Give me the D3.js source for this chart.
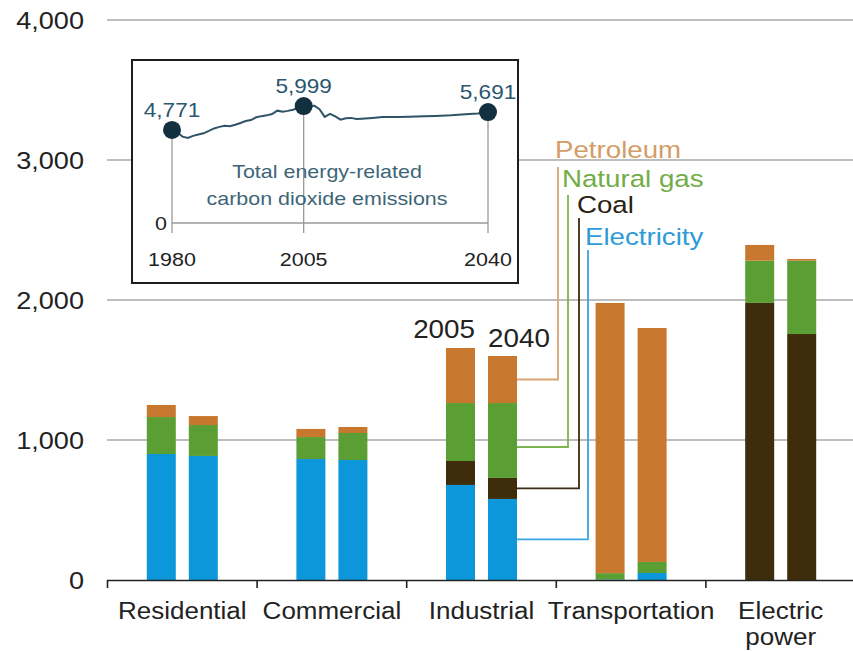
<!DOCTYPE html>
<html>
<head>
<meta charset="utf-8">
<script src="https://cdn.jsdelivr.net/npm/d3@7"></script>
<style>
  html, body { margin: 0; padding: 0; background: #fff; }
  svg { display: block; }
  text { font-family: "Liberation Sans", Arial, Helvetica, sans-serif; }
</style>
</head>
<body>
<div id="chart"></div>
<script>
// ---------------- DATA ----------------
const categories = ["Residential", "Commercial", "Industrial", "Transportation", "Electric power"];
const years = ["2005", "2040"];
const fuels = ["Electricity", "Coal", "Natural gas", "Petroleum"]; // stacking order bottom -> top

const electricity2005 = [900, 864, 679, 4, 0];
const coal2005        = [0, 0, 171, 0, 1979];
const gas2005         = [264, 157, 414, 45, 302];
const petroleum2005   = [86, 58, 393, 1930, 112];

const electricity2040 = [886, 857, 579, 50, 0];
const coal2040        = [0, 0, 150, 0, 1757];
const gas2040         = [221, 193, 535, 79, 524];
const petroleum2040   = [64, 43, 336, 1671, 12];

const yTicks = [0, 1000, 2000, 3000, 4000];

// legend (labels + where each leader line attaches on the Industrial 2040 bar)
const legendLabels = ["Petroleum", "Natural gas", "Coal", "Electricity"];
const leaderValues = [1432, 950, 654, 290];

// inset: total energy-related CO2 emissions
const insetYears  = [1980,1981,1982,1983,1984,1985,1986,1987,1988,1989,1990,1991,1992,1993,1994,1995,1996,1997,1998,1999,2000,2001,2002,2003,2004,2005,2006,2007,2008,2009,2010,2011,2012,2013,2014,2015,2016,2018,2020,2023,2025,2028,2030,2033,2035,2038,2040];
const insetValues = [4771,4640,4430,4360,4470,4540,4600,4720,4850,4930,4990,4960,5040,5130,5230,5280,5420,5480,5520,5590,5760,5700,5750,5810,5910,5999,5930,6020,5840,5440,5600,5470,5300,5370,5390,5330,5350,5390,5430,5440,5450,5470,5490,5520,5560,5620,5691];
const keyYears  = [1980, 2005, 2040];
const keyValues = [4771, 5999, 5691];
const insetTickYears = [1980, 2005, 2040];

// ---------------- STYLE / LAYOUT ----------------
const W = 853, H = 651;
const FONT_SX = 1.13;
const colors = {
  "Electricity": "#0b97da",
  "Coal": "#3e2c0b",
  "Natural gas": "#5b9e33",
  "Petroleum": "#c8782e"
};
const legendTextColor = {
  "Petroleum": "#d49c66", "Natural gas": "#72ad47", "Coal": "#2a2212", "Electricity": "#2f9ad8"
};
const leaderColor = {
  "Petroleum": "#d9a574", "Natural gas": "#7db452", "Coal": "#3b2a12", "Electricity": "#3aa6e3"
};

const series = {
  "2005": { "Electricity": electricity2005, "Coal": coal2005, "Natural gas": gas2005, "Petroleum": petroleum2005 },
  "2040": { "Electricity": electricity2040, "Coal": coal2040, "Natural gas": gas2040, "Petroleum": petroleum2040 }
};

const svg = d3.select("#chart").append("svg")
  .attr("width", W).attr("height", H).attr("viewBox", `0 0 ${W} ${H}`);

// scales
const y = d3.scaleLinear().domain([0, 4000]).range([580, 20]);
const x0 = d3.scaleBand().domain(categories).range([107.5, 855.5]).paddingInner(0).paddingOuter(0);
const x1 = d3.scaleBand().domain(years).range([-35.5, 35.5]).paddingInner(0.31).paddingOuter(0);

// helper: stretched text
function stext(parent, x, yy, str, opts) {
  const g = parent.append("g").attr("transform", `translate(${x},${yy}) scale(${opts.sx || FONT_SX},1)`);
  const t = g.append("text")
    .attr("x", 0).attr("y", 0)
    .attr("text-anchor", opts.anchor || "start")
    .style("font-size", (opts.size || 20) + "px")
    .attr("fill", opts.fill || "#222")
    .text(str);
  return t;
}

// gridlines
svg.append("g").selectAll("line").data(yTicks.filter(d => d > 0)).join("line")
  .attr("x1", 107).attr("x2", W)
  .attr("y1", d => y(d)).attr("y2", d => y(d))
  .attr("stroke", "#a8a8a8").attr("stroke-width", 1.6);

// y tick labels
const yl = svg.append("g");
yTicks.forEach(t => stext(yl, 84, y(t) + 8.5, d3.format(",")(t), { anchor: "end", size: 24 }));

// stacked bars
const barsG = svg.append("g");
const stackRows = [];
categories.forEach((c, i) => {
  years.forEach(yr => {
    let base = 0;
    fuels.forEach(f => {
      const v = series[yr][f][i];
      stackRows.push({ cat: c, year: yr, fuel: f, y0: base, y1: base + v });
      base += v;
    });
  });
});
const bw = x1.bandwidth();
const catCenter = c => x0(c) + x0.bandwidth() / 2;
barsG.selectAll("rect").data(stackRows.filter(d => d.y1 > d.y0)).join("rect")
  .attr("x", d => catCenter(d.cat) + x1(d.year))
  .attr("width", bw)
  .attr("y", d => y(d.y1))
  .attr("height", d => y(d.y0) - y(d.y1))
  .attr("fill", d => colors[d.fuel]);

// x axis baseline + ticks
const axG = svg.append("g");
axG.append("line").attr("x1", 107).attr("x2", W).attr("y1", 580.5).attr("y2", 580.5)
  .attr("stroke", "#222").attr("stroke-width", 1.6);
const boundaries = categories.map(c => x0(c)).concat([x0.range()[1]]);
axG.selectAll("line.tick").data(boundaries).join("line").attr("class", "tick")
  .attr("x1", d => d).attr("x2", d => d).attr("y1", 580).attr("y2", 588)
  .attr("stroke", "#222").attr("stroke-width", 1.6);

// x labels
categories.forEach(c => {
  const parts = c === "Electric power" ? ["Electric", "power"] : [c];
  parts.forEach((p, k) => stext(axG, catCenter(c), 619 + k * 26, p, { anchor: "middle", size: 23 }));
});

// year labels above Industrial bars
const ind = categories.indexOf("Industrial");
const top2005 = electricity2005[ind] + coal2005[ind] + gas2005[ind] + petroleum2005[ind];
const top2040 = electricity2040[ind] + coal2040[ind] + gas2040[ind] + petroleum2040[ind];
stext(svg, catCenter("Industrial") + x1("2005") + bw, y(top2005) - 10, "2005", { anchor: "end", size: 26, sx: 1.07 });
stext(svg, catCenter("Industrial") + x1("2040"), y(top2040) - 9, "2040", { anchor: "start", size: 26, sx: 1.07 });

// legend with leader lines
const legG = svg.append("g");
const barRight = catCenter("Industrial") + x1("2040") + bw;
const leaderX = [558, 568, 579, 588];
const leaderTop = [167, 195, 218, 250];
const labelPos = [[555, 158], [562, 187], [577, 213], [585, 245]];
legendLabels.forEach((lab, i) => {
  legG.append("path")
    .attr("d", `M${barRight},${y(leaderValues[i])}H${leaderX[i]}V${leaderTop[i]}`)
    .attr("fill", "none").attr("stroke", leaderColor[lab]).attr("stroke-width", 1.8);
  stext(legG, labelPos[i][0], labelPos[i][1], lab, { size: 24.5, fill: legendTextColor[lab] });
});

// ---------------- INSET ----------------
const inset = svg.append("g");
inset.append("rect").attr("x", 132).attr("y", 60).attr("width", 386).attr("height", 223)
  .attr("fill", "#fff").attr("stroke", "#1e1e1e").attr("stroke-width", 2);

const ix = d3.scaleLinear().domain([1980, 2040]).range([172, 488]);
const iy = d3.scaleLinear().domain([0, 6000]).range([223, 106]);

// baseline and drop lines
inset.append("line").attr("x1", ix(1980)).attr("x2", ix(2040)).attr("y1", iy(0)).attr("y2", iy(0))
  .attr("stroke", "#9a9a9a").attr("stroke-width", 1.3);
inset.selectAll("line.drop").data(keyYears.map((yr, i) => ({ yr, v: keyValues[i] }))).join("line")
  .attr("class", "drop")
  .attr("x1", d => ix(d.yr)).attr("x2", d => ix(d.yr))
  .attr("y1", d => iy(d.v)).attr("y2", iy(0) + 10)
  .attr("stroke", "#9a9a9a").attr("stroke-width", 1.3);

// zero label
stext(inset, ix(1980) - 5, iy(0) + 7, "0", { anchor: "end", size: 19 });

// year labels
insetTickYears.forEach(yr => stext(inset, ix(yr), 266, String(yr), { anchor: "middle", size: 19 }));

// caption
stext(inset, 327, 178, "Total energy-related", { anchor: "middle", size: 19, fill: "#3e6577" });
stext(inset, 327, 205, "carbon dioxide emissions", { anchor: "middle", size: 19, fill: "#3e6577" });

// line
inset.append("path")
  .datum(insetYears.map((yr, i) => [yr, insetValues[i]]))
  .attr("d", d3.line().x(d => ix(d[0])).y(d => iy(d[1])))
  .attr("fill", "none").attr("stroke", "#2f5468").attr("stroke-width", 2);

// key dots + labels
keyYears.forEach((yr, i) => {
  inset.append("circle").attr("cx", ix(yr)).attr("cy", iy(keyValues[i])).attr("r", 9)
    .attr("fill", "#12303f");
  stext(inset, ix(yr), iy(keyValues[i]) - 13, d3.format(",")(keyValues[i]), { anchor: "middle", size: 20, fill: "#2a5670" });
});
</script>
</body>
</html>
